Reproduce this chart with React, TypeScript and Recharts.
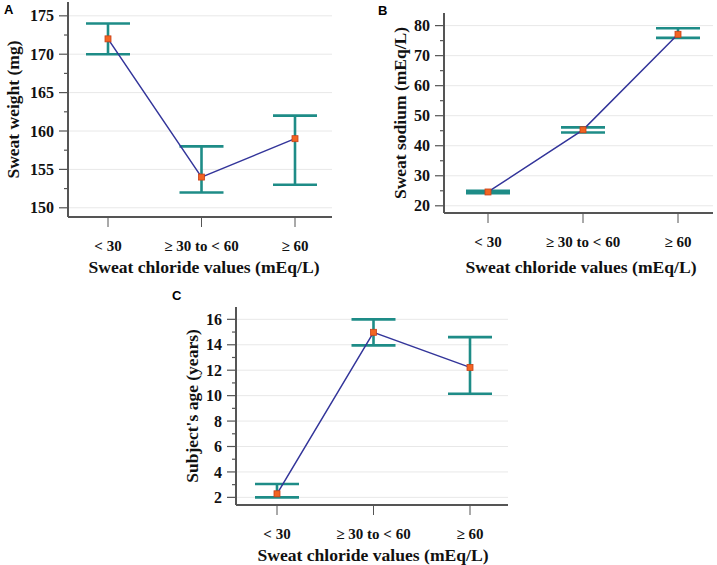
import React from 'react';
import { LineChart, Line, XAxis, YAxis, CartesianGrid, ErrorBar, Label } from 'recharts';

const categories = ['< 30', '≥ 30 to < 60', '≥ 60'];

// mean values and [below, above] error lengths
const weightMean = [172, 154, 159];
const weightErr = [[2, 2], [2, 4], [6, 3]];
const weightTicks = [150, 155, 160, 165, 170, 175];
const weightMinor = [152.5, 157.5, 162.5, 167.5, 172.5];

const sodiumMean = [24.6, 45.3, 77.1];
const sodiumErr = [[0.4, 0.4], [0.9, 0.8], [1.2, 2.0]];
const sodiumTicks = [20, 30, 40, 50, 60, 70, 80];
const sodiumMinor = [25, 35, 45, 55, 65, 75];

const ageMean = [2.28, 14.98, 12.22];
const ageErr = [[0.28, 0.77], [1.03, 1.02], [2.07, 2.38]];
const ageTicks = [2, 4, 6, 8, 10, 12, 14, 16];
const ageMinor = [3, 5, 7, 9, 11, 13, 15];

const TEAL = '#1e8c87';
const LINE = '#33359a';
const SERIF = '"Liberation Serif", "Times New Roman", serif';
const AXIS = '#555';

const toRows = (mean: number[], err: number[][]) =>
  categories.map((name, i) => ({ name, mean: mean[i], err: err[i] }));

const squareDot = (props: any) => {
  const { cx, cy, index } = props;
  return (
    <rect
      key={`dot-${index}`}
      x={cx - 3}
      y={cy - 3}
      width={6}
      height={6}
      fill="#f26522"
      stroke="#c8401a"
      strokeWidth={0.8}
    />
  );
};

// y tick: long tick + label for majors, short tick for minors
const makeYTick = (majors: number[]) => (props: any) => {
  const { x, y, payload } = props;
  const major = majors.includes(payload.value);
  return (
    <g>
      <line x1={x} y1={y} x2={x - (major ? 9 : 4)} y2={y} stroke="#555" strokeWidth={1.2} />
      {major && (
        <text
          x={x - 14}
          y={y}
          dy="0.35em"
          textAnchor="end"
          fill="#111"
          fontSize={16}
          fontWeight="bold"
          fontFamily={SERIF}
        >
          {payload.value}
        </text>
      )}
    </g>
  );
};

const xTick = (props: any) => {
  const { x, y, payload } = props;
  return (
    <text x={x} y={y} dy="0.71em" textAnchor="middle" fill="#111" fontSize={15} fontWeight="bold" fontFamily={SERIF}>
      {payload.value}
    </text>
  );
};

const yTitleStyle = { fill: '#111', fontSize: 17.5, fontWeight: 'bold', fontFamily: SERIF };

// x title drawn from the axis view box so its font is set directly
const makeXTitle = (offset: number, dx: number) => (props: any) => {
  const vb = props.viewBox || {};
  return (
    <text
      x={vb.x + vb.width / 2 + dx}
      y={vb.y + vb.height - offset}
      textAnchor="middle"
      fill="#111"
      fontSize={17.6}
      fontWeight="bold"
      fontFamily={SERIF}
    >
      Sweat chloride values (mEq/L)
    </text>
  );
};

type PanelProps = {
  rows: { name: string; mean: number; err: number[] }[];
  domain: [number, number];
  ticks: number[];
  minor: number[];
  yTitle: string;
  width: number;
  height: number;
  top: number;
  right: number;
  yWidth: number;
  xHeight: number;
  pad: { left: number; right: number };
  yLabelOffset: number;
  xLabelOffset: number;
  xLabelDx: number;
};

function Panel(p: PanelProps) {
  const allTicks = [...p.ticks, ...p.minor].sort((a, b) => a - b);
  return (
    <LineChart
      width={p.width}
      height={p.height}
      data={p.rows}
      margin={{ top: p.top, right: p.right, bottom: 0, left: 0 }}
    >
      <CartesianGrid vertical={false} stroke="#e8e8e8" horizontalValues={p.ticks} />
      <YAxis
        width={p.yWidth}
        domain={p.domain}
        ticks={allTicks}
        type="number"
        allowDataOverflow
        interval={0}
        tickSize={0}
        tickMargin={0}
        tickLine={false}
        axisLine={{ stroke: AXIS, strokeWidth: 2 }}
        tick={makeYTick(p.ticks)}
      >
        <Label
          value={p.yTitle}
          angle={-90}
          position="insideLeft"
          offset={p.yLabelOffset}
          style={{ ...yTitleStyle, textAnchor: 'middle' }}
        />
      </YAxis>
      <XAxis
        dataKey="name"
        height={p.xHeight}
        padding={p.pad}
        interval={0}
        tickSize={10}
        tickMargin={13}
        axisLine={{ stroke: AXIS, strokeWidth: 2 }}
        tickLine={{ stroke: AXIS, strokeWidth: 1 }}
        tick={xTick}
      >
        <Label position="insideBottom" content={makeXTitle(p.xLabelOffset, p.xLabelDx)} />
      </XAxis>
      <Line
        dataKey="mean"
        stroke={LINE}
        strokeWidth={1.5}
        dot={squareDot}
        activeDot={false}
        isAnimationActive={false}
      >
        <ErrorBar dataKey="err" direction="y" width={22} stroke={TEAL} strokeWidth={2.6} isAnimationActive={false} />
      </Line>
    </LineChart>
  );
}

const letterStyle: React.CSSProperties = {
  position: 'absolute',
  fontFamily: '"Liberation Sans", Arial, sans-serif',
  fontWeight: 'bold',
  fontSize: 13,
  lineHeight: '13px',
};

export default function App() {
  return (
    <div style={{ position: 'absolute', left: 0, top: 0, width: 717, height: 565, background: '#fff' }}>
      <div style={{ position: 'absolute', left: 0, top: 0 }}>
        <Panel
          rows={toRows(weightMean, weightErr)}
          domain={[148.8, 176.8]}
          ticks={weightTicks}
          minor={weightMinor}
          yTitle="Sweat weight (mg)"
          width={345}
          height={280}
          top={2}
          right={13}
          yWidth={68}
          xHeight={63}
          pad={{ left: 40, right: 37 }}
          yLabelOffset={12.5}
          xLabelOffset={7.2}
          xLabelDx={4}
        />
      </div>
      <div style={{ position: 'absolute', left: 360, top: 0 }}>
        <Panel
          rows={toRows(sodiumMean, sodiumErr)}
          domain={[17.6, 84.2]}
          ticks={sodiumTicks}
          minor={sodiumMinor}
          yTitle="Sweat sodium (mEq/L)"
          width={357}
          height={280}
          top={13}
          right={4}
          yWidth={84}
          xHeight={67}
          pad={{ left: 44, right: 35 }}
          yLabelOffset={40}
          xLabelOffset={7.2}
          xLabelDx={2.5}
        />
      </div>
      <div style={{ position: 'absolute', left: 160, top: 280 }}>
        <Panel
          rows={toRows(ageMean, ageErr)}
          domain={[1.4, 16.97]}
          ticks={ageTicks}
          minor={ageMinor}
          yTitle="Subject's age (years)"
          width={360}
          height={285}
          top={27}
          right={12}
          yWidth={76}
          xHeight={60}
          pad={{ left: 41, right: 38 }}
          yLabelOffset={32}
          xLabelOffset={4.2}
          xLabelDx={1}
        />
      </div>
      <div style={{ ...letterStyle, left: 4, top: 3 }}>A</div>
      <div style={{ ...letterStyle, left: 378, top: 4 }}>B</div>
      <div style={{ ...letterStyle, left: 172, top: 289 }}>C</div>
    </div>
  );
}
